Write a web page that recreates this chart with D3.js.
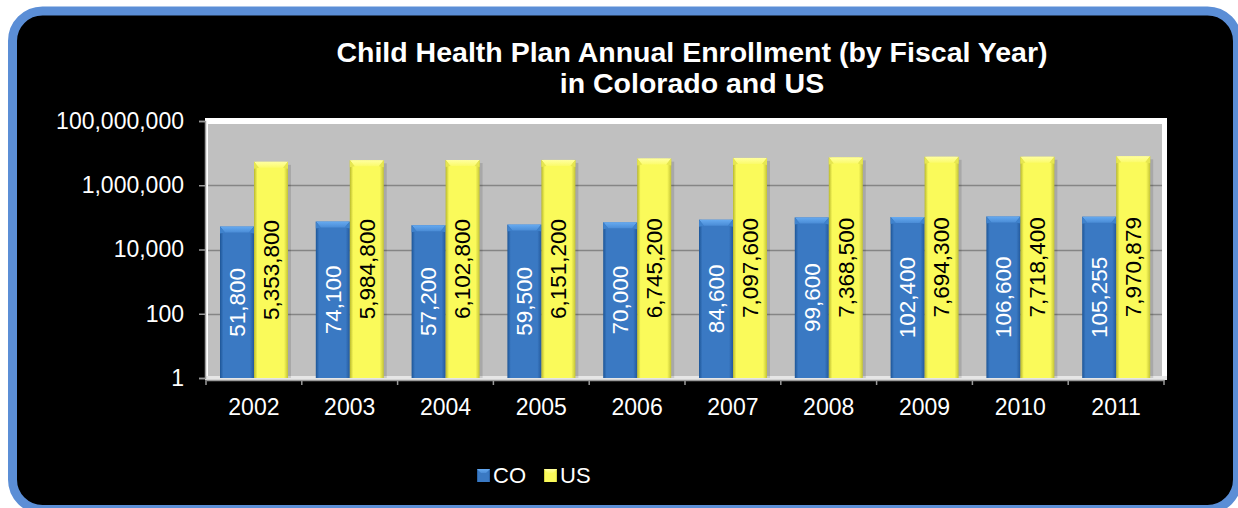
<!DOCTYPE html>
<html>
<head>
<meta charset="utf-8">
<script src="https://cdn.jsdelivr.net/npm/d3@7"></script>
<style>
  html, body { margin: 0; padding: 0; background: #ffffff; }
  svg { display: block; }
  text { font-family: "Liberation Sans", Arial, sans-serif; }
</style>
</head>
<body>
<svg id="chart" width="1238" height="508"></svg>
<script>
// Enrollment by fiscal year
const years = ["2002", "2003", "2004", "2005", "2006", "2007", "2008", "2009", "2010", "2011"];
const seriesNames = ["CO", "US"];
const coValues = [51800, 74100, 57200, 59500, 70000, 84600, 99600, 102400, 106600, 105255];
const usValues = [5353800, 5984800, 6102800, 6151200, 6745200, 7097600, 7368500, 7694300, 7718400, 7970879];
const yTickValues = [1, 100, 10000, 1000000, 100000000];
const titleLines = ["Child Health Plan Annual Enrollment (by Fiscal Year)", "in Colorado and US"];

const rows = years.map((y, i) => ({ year: y, CO: coValues[i], US: usValues[i] }));

const svg = d3.select("#chart");

// gradients for bevelled bars
const defs = svg.append("defs");
const palette = {
  CO: { edgeL: "#1d5596", mid: "#3a79c3", edgeR: "#23599c", top: "#66aaf0", topLow: "#4a8cd6", topEdge: "#3f82cc", text: "#ffffff" },
  US: { edgeL: "#b8b82c", mid: "#fafa5a", edgeR: "#c4c435", top: "#ffffa0", topLow: "#fbfb6a", topEdge: "#e6e650", text: "#000000" }
};
seriesNames.forEach(s => {
  const g = defs.append("linearGradient").attr("id", "grad-" + s)
    .attr("x1", "0").attr("x2", "1").attr("y1", "0").attr("y2", "0");
  g.append("stop").attr("offset", "0").attr("stop-color", palette[s].edgeL);
  g.append("stop").attr("offset", "0.1").attr("stop-color", palette[s].mid);
  g.append("stop").attr("offset", "0.88").attr("stop-color", palette[s].mid);
  g.append("stop").attr("offset", "1").attr("stop-color", palette[s].edgeR);
  const t = defs.append("linearGradient").attr("id", "top-" + s)
    .attr("x1", "0").attr("x2", "0").attr("y1", "0").attr("y2", "1");
  t.append("stop").attr("offset", "0").attr("stop-color", palette[s].top);
  t.append("stop").attr("offset", "1").attr("stop-color", palette[s].topLow);
});

// card background with rounded blue border
svg.append("rect")
  .attr("x", 12.5).attr("y", 11).attr("width", 1225).attr("height", 498.5)
  .attr("rx", 30).attr("ry", 30)
  .attr("fill", "#000000").attr("stroke", "#5b8ed6").attr("stroke-width", 9);

// title
const title = svg.append("text")
  .attr("text-anchor", "middle").attr("fill", "#ffffff")
  .attr("font-weight", "bold").attr("font-size", 28.5);
titleLines.forEach((t, i) => {
  title.append("tspan").attr("x", 692).attr("y", 62 + i * 31).text(t);
});

// scales
const x0 = d3.scaleBand().domain(years).range([206, 1164]).padding(0);
const x1 = d3.scaleBand().domain(seriesNames).range([14, 82]).padding(0);
const y = d3.scaleLog().domain([1, 100000000]).range([378, 121]);

// plot wall
const wallTop = y(100000000);
svg.append("rect")
  .attr("x", 205).attr("y", wallTop - 3).attr("width", 962).attr("height", 378 - wallTop + 3)
  .attr("fill", "#ffffff");
svg.append("rect")
  .attr("x", 208).attr("y", wallTop + 3).attr("width", 954).attr("height", 378 - wallTop - 3)
  .attr("fill", "#c0c0c0");

// gridlines
svg.append("g").selectAll("line")
  .data(yTickValues.filter(v => v > 1 && v < 100000000))
  .join("line")
  .attr("x1", 208).attr("x2", 1162)
  .attr("y1", d => Math.round(y(d)) + 0.5).attr("y2", d => Math.round(y(d)) + 0.5)
  .attr("stroke", "#858585").attr("stroke-width", 1.5);

// floor
svg.append("rect")
  .attr("x", 205).attr("y", 376).attr("width", 962).attr("height", 4)
  .attr("fill", "#e6e6e6");

// y axis
const yAxis = d3.axisLeft(y)
  .tickValues(yTickValues)
  .tickFormat(d3.format(","))
  .tickSize(6).tickPadding(15);
const yg = svg.append("g").attr("transform", "translate(205,0)").call(yAxis);
yg.select(".domain").attr("stroke", "#9a9a9a").attr("stroke-width", 1.5);
yg.selectAll(".tick line").attr("stroke", "#9a9a9a").attr("stroke-width", 1.5);
yg.selectAll(".tick text").attr("fill", "#ffffff").attr("font-size", 23)
  .attr("font-family", "'Liberation Sans', Arial, sans-serif");

// x axis
const xAxis = d3.axisBottom(x0).tickSize(0).tickPadding(19);
const xg = svg.append("g").attr("transform", "translate(0,380)").call(xAxis);
xg.select(".domain").attr("stroke", "#9a9a9a").attr("stroke-width", 1.5);
xg.selectAll(".tick text").attr("fill", "#ffffff").attr("font-size", 23)
  .attr("font-family", "'Liberation Sans', Arial, sans-serif");
// category boundary ticks
xg.append("g").selectAll("line")
  .data(years.concat(["__end"]))
  .join("line")
  .attr("x1", (d, i) => x0.range()[0] + i * x0.step())
  .attr("x2", (d, i) => x0.range()[0] + i * x0.step())
  .attr("y1", 0).attr("y2", 5)
  .attr("stroke", "#9a9a9a").attr("stroke-width", 1.5);

// bars
const base = y(1);
const groups = svg.append("g").selectAll("g")
  .data(rows).join("g")
  .attr("transform", d => `translate(${x0(d.year)},0)`);

const bars = groups.selectAll("g")
  .data(d => seriesNames.map(s => ({ key: s, value: d[s] })))
  .join("g");

const bw = x1.bandwidth();
// soft shadow on the wall
bars.append("rect")
  .attr("x", d => x1(d.key) + 3).attr("y", d => y(d.value) + 3)
  .attr("width", bw).attr("height", d => base - y(d.value) - 3)
  .attr("fill", "#000000").attr("opacity", 0.12);
bars.append("rect")
  .attr("x", d => x1(d.key)).attr("y", d => y(d.value))
  .attr("width", bw).attr("height", d => base - y(d.value))
  .attr("fill", d => `url(#grad-${d.key})`);
// bevelled top
bars.append("path")
  .attr("d", d => {
    const xl = x1(d.key), xr = xl + bw, yt = y(d.value);
    return `M${xl},${yt}L${xr},${yt}L${xr - 5},${yt + 6}L${xl + 5},${yt + 6}Z`;
  })
  .attr("fill", d => `url(#top-${d.key})`);
bars.append("path")
  .attr("d", d => {
    const xl = x1(d.key), xr = xl + bw, yt = y(d.value);
    return `M${xl},${yt}L${xl + 5},${yt + 6}L${xl},${yt + 7}Z M${xr},${yt}L${xr - 5},${yt + 6}L${xr},${yt + 7}Z`;
  })
  .attr("fill", d => palette[d.key].topEdge);

// value labels, rotated, centred in each bar
bars.append("text")
  .attr("transform", d => {
    const cx = x1(d.key) + bw / 2;
    const cy = (y(d.value) + base) / 2;
    return `translate(${cx},${cy}) rotate(-90)`;
  })
  .attr("text-anchor", "middle").attr("dy", "0.35em")
  .attr("font-size", 22.5)
  .attr("fill", d => palette[d.key].text)
  .text(d => d3.format(",")(d.value));

// legend
const legend = svg.append("g");
const legendItems = [{ key: "CO", x: 477 }, { key: "US", x: 544 }];
legendItems.forEach(it => {
  legend.append("rect").attr("x", it.x).attr("y", 469).attr("width", 13).attr("height", 13)
    .attr("fill", `url(#grad-${it.key})`);
  legend.append("path")
    .attr("d", `M${it.x},469L${it.x + 13},469L${it.x + 9},473L${it.x + 4},473Z`)
    .attr("fill", `url(#top-${it.key})`);
  legend.append("text").attr("x", it.x + 16).attr("y", 483)
    .attr("fill", "#ffffff").attr("font-size", 22).text(it.key);
});
</script>
</body>
</html>
